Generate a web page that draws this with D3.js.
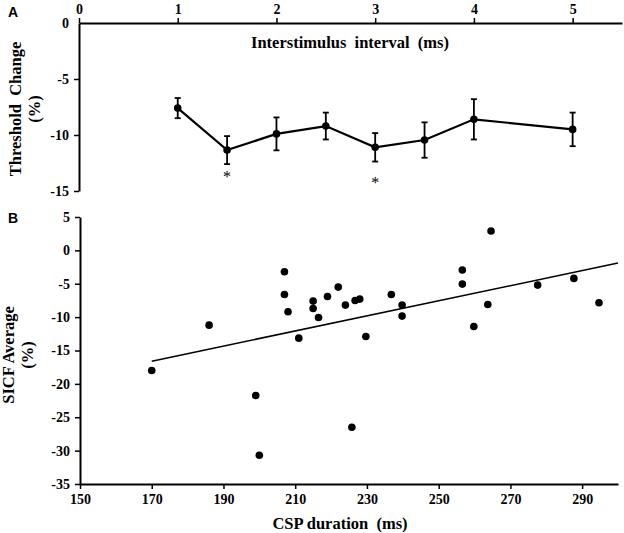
<!DOCTYPE html>
<html>
<head>
<meta charset="utf-8">
<script src="https://cdn.jsdelivr.net/npm/d3@7"></script>
<style>
body { margin: 0; background: #fff; }
svg text { font-family: "Liberation Serif", "Times New Roman", serif; font-weight: bold; fill: #000; white-space: pre; }
</style>
</head>
<body>
<svg id="chart" width="624" height="533"></svg>
<script>
// panel A: threshold change by interstimulus interval
var isi = [1, 1.5, 2, 2.5, 3, 3.5, 4, 5];
var thrMean = [-7.6, -11.35, -9.9, -9.2, -11.1, -10.45, -8.6, -9.5];
var thrErr = [0.9, 1.25, 1.47, 1.2, 1.27, 1.58, 1.8, 1.5];
var starIsi = [1.5, 3];
var starY = [-13.5, -14.0];
var isiTicks = [0, 1, 2, 3, 4, 5];
var thrTicks = [0, -5, -10, -15];

// panel B: SICF vs CSP duration
var csp = [170, 186, 199, 200, 207, 207, 208, 211, 215, 215, 216.5, 219, 222, 224, 226.7, 228, 225.8, 229.7,
           236.8, 239.8, 239.8, 256.6, 256.6, 259.8, 263.7, 264.6, 277.6, 287.7, 294.7];
var sicf = [-18.0, -11.2, -21.75, -30.7, -3.2, -6.6, -9.2, -13.15, -7.6, -8.7, -10.05, -6.9, -5.5, -8.2, -7.5, -7.3, -26.5, -12.9,
            -6.6, -8.2, -9.85, -2.95, -5.05, -11.4, -8.1, 2.9, -5.2, -4.2, -7.85];
var trendX = [170, 300];
var trendY = [-16.6, -1.9];
var cspTicks = [150, 170, 190, 210, 230, 250, 270, 290];
var sicfTicks = [5, 0, -5, -10, -15, -20, -25, -30, -35];

var svg = d3.select("#chart");
var serif = '"Liberation Serif", "Times New Roman", serif';

// plain hyphen for negatives, like the original
function fmt(d) { return String(d); }

function styleAxis(g, size) {
	g.attr("font-family", serif).attr("font-size", size).attr("font-weight", "bold");
	g.select(".domain").attr("stroke", "#000").attr("stroke-width", 2);
	g.selectAll(".tick line").attr("stroke", "#000").attr("stroke-width", 1.5);
	g.selectAll(".tick text").attr("fill", "#000");
}

// ---------- panel A ----------
var xa = d3.scaleLinear().domain([0, 5.5]).range([79, 622]);
var ya = d3.scaleLinear().domain([0, -15]).range([23, 191]);

var axA = svg.append("g").attr("transform", "translate(0," + ya(0) + ")")
	.call(d3.axisTop(xa).tickValues(isiTicks).tickFormat(fmt).tickSize(5).tickSizeOuter(0).tickPadding(4));
styleAxis(axA, 14);
var ayA = svg.append("g").attr("transform", "translate(" + xa(0) + ",0)")
	.call(d3.axisLeft(ya).tickValues(thrTicks).tickFormat(fmt).tickSize(5).tickSizeOuter(0).tickPadding(5));
styleAxis(ayA, 14);
ayA.selectAll(".tick").filter(function(d) { return d === 0; }).select("line").remove();

var line = d3.line().x(function(d, i) { return xa(isi[i]); }).y(function(d) { return ya(d); });
svg.append("path").datum(thrMean).attr("d", line)
	.attr("fill", "none").attr("stroke", "#000").attr("stroke-width", 2.2);

var eb = svg.append("g").attr("stroke", "#000").attr("stroke-width", 1.8);
isi.forEach(function(v, i) {
	var x = xa(v), y1 = ya(thrMean[i] + thrErr[i]), y2 = ya(thrMean[i] - thrErr[i]);
	eb.append("line").attr("x1", x).attr("x2", x).attr("y1", y1).attr("y2", y2);
	eb.append("line").attr("x1", x - 3).attr("x2", x + 3).attr("y1", y1).attr("y2", y1);
	eb.append("line").attr("x1", x - 3).attr("x2", x + 3).attr("y1", y2).attr("y2", y2);
});
svg.append("g").selectAll("circle").data(thrMean).enter().append("circle")
	.attr("cx", function(d, i) { return xa(isi[i]); })
	.attr("cy", function(d) { return ya(d); })
	.attr("r", 3.8).attr("fill", "#000");

svg.append("g").selectAll("text").data(starIsi).enter().append("text")
	.attr("x", function(d) { return xa(d); })
	.attr("y", function(d, i) { return ya(starY[i]) + 8; })
	.attr("text-anchor", "middle").style("font-size", "16px").style("font-weight", "normal")
	.text("*");

svg.append("text").attr("x", 350).attr("y", 48).attr("text-anchor", "middle")
	.style("font-size", "16.5px").text("Interstimulus  interval  (ms)");
svg.append("text").attr("transform", "translate(21,109)rotate(-90)").attr("text-anchor", "middle")
	.style("font-size", "16.5px").text("Threshold  Change");
svg.append("text").attr("transform", "translate(40,109)rotate(-90)").attr("text-anchor", "middle")
	.style("font-size", "16.5px").text("(%)");
svg.append("text").attr("x", 8).attr("y", 17)
	.style("font-size", "14px").style("font-family", '"Liberation Sans", Arial, sans-serif').text("A");

// ---------- panel B ----------
var xb = d3.scaleLinear().domain([150, 300]).range([80, 618]);
var yb = d3.scaleLinear().domain([-35, 5]).range([484, 217]);

var axB = svg.append("g").attr("transform", "translate(0," + yb(-35) + ")")
	.call(d3.axisBottom(xb).tickValues(cspTicks).tickFormat(fmt).tickSize(5).tickSizeOuter(0).tickPadding(5));
styleAxis(axB, 14);
var ayB = svg.append("g").attr("transform", "translate(" + xb(150) + ",0)")
	.call(d3.axisLeft(yb).tickValues(sicfTicks).tickFormat(fmt).tickSize(5).tickSizeOuter(0).tickPadding(5));
styleAxis(ayB, 14);

svg.append("line")
	.attr("x1", xb(trendX[0])).attr("y1", yb(trendY[0]))
	.attr("x2", xb(trendX[1])).attr("y2", yb(trendY[1]))
	.attr("stroke", "#000").attr("stroke-width", 1.6);

svg.append("g").selectAll("circle").data(sicf).enter().append("circle")
	.attr("cx", function(d, i) { return xb(csp[i]); })
	.attr("cy", function(d) { return yb(d); })
	.attr("r", 3.8).attr("fill", "#000");

svg.append("text").attr("x", 340).attr("y", 529).attr("text-anchor", "middle")
	.style("font-size", "16.5px").text("CSP duration  (ms)");
svg.append("text").attr("transform", "translate(14,355)rotate(-90)").attr("text-anchor", "middle")
	.style("font-size", "16.5px").text("SICF Average");
svg.append("text").attr("transform", "translate(33,355)rotate(-90)").attr("text-anchor", "middle")
	.style("font-size", "16.5px").text("(%)");
svg.append("text").attr("x", 8).attr("y", 223)
	.style("font-size", "14px").style("font-family", '"Liberation Sans", Arial, sans-serif').text("B");
</script>
</body>
</html>
